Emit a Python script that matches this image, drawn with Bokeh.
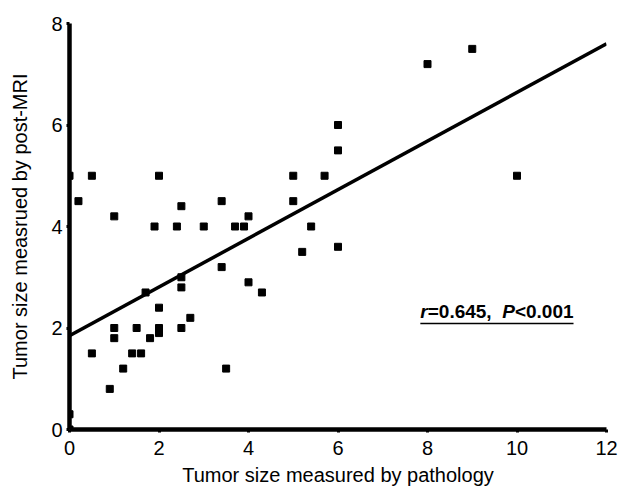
from bokeh.plotting import figure
from bokeh.models import Range1d, FixedTicker, ColumnDataSource
from bokeh.core.properties import value
from bokeh.embed import file_html
from bokeh.resources import INLINE

# ---- data ----
x_pathology = [0, 0, 0, 0.2, 0.5, 0.5, 0.9, 1.0, 1.0, 1.0, 1.2, 1.4, 1.5, 1.6, 1.7, 1.8,
               1.9, 2.0, 2.0, 2.0, 2.0, 2.4, 2.5, 2.5, 2.5, 2.5, 2.7, 3.0, 3.4, 3.4, 3.5,
               3.7, 3.9, 4.0, 4.0, 4.3, 5.0, 5.0, 5.2, 5.4, 5.7, 6.0, 6.0, 6.0, 8.0, 9.0, 10.0]
y_mri = [5.0, 0.3, 0.0, 4.5, 5.0, 1.5, 0.8, 4.2, 2.0, 1.8, 1.2, 1.5, 2.0, 1.5, 2.7, 1.8,
         4.0, 5.0, 2.4, 2.0, 1.9, 4.0, 4.4, 3.0, 2.8, 2.0, 2.2, 4.0, 4.5, 3.2, 1.2,
         4.0, 4.0, 4.2, 2.9, 2.7, 5.0, 4.5, 3.5, 4.0, 5.0, 6.0, 5.5, 3.6, 7.2, 7.5, 5.0]
fit_x = [0, 12]
fit_y = [1.85, 7.6]
x_ticks = [0, 2, 4, 6, 8, 10, 12]
y_ticks = [0, 2, 4, 6, 8]
x_title = "Tumor size measured by pathology"
y_title = "Tumor size measrued by post-MRI"
annot_parts = ["r", "=0.645,  ", "P", "<0.001"]
annot_italic = [True, False, True, False]

FONT = "Liberation Sans"
W, H = 621, 492
BL, BR, BT, BB = 69, 15, 23, 63

p = figure(width=W, height=H, output_backend="svg", toolbar_location=None,
           x_range=Range1d(0, 12), y_range=Range1d(0, 8),
           min_border_left=BL, min_border_right=BR, min_border_top=BT, min_border_bottom=BB)
p.outline_line_color = None
p.xgrid.visible = False
p.ygrid.visible = False
p.background_fill_color = "white"
p.border_fill_color = "white"

for ax, ticks in ((p.xaxis[0], x_ticks), (p.yaxis[0], y_ticks)):
    ax.ticker = FixedTicker(ticks=ticks)
    ax.axis_line_width = 4.5
    ax.axis_line_color = "black"
    ax.major_tick_out = 3
    ax.major_tick_in = 0
    ax.major_tick_line_width = 3
    ax.minor_tick_line_color = None
    ax.major_label_text_font = FONT
    ax.major_label_text_font_size = "20px"
    ax.major_label_text_color = "black"
    ax.axis_label_text_font = FONT
    ax.axis_label_text_font_size = "20px"
    ax.axis_label_text_font_style = "normal"
    ax.axis_label_text_color = "black"

p.xaxis.axis_label = x_title
p.yaxis.axis_label = y_title
p.xaxis.major_label_standoff = 8
p.xaxis.axis_label_standoff = 6
p.yaxis.major_label_standoff = 4
p.yaxis.axis_label_standoff = 17

# regression line
p.line(fit_x, fit_y, line_color="black", line_width=3.5)

# points
p.scatter(x_pathology, y_mri, marker="square", size=7, fill_color="black", line_color="black")

# annotation r=0.645, P<0.001 (bold, r and P italic, underlined)
ann_x, ann_y = 7.84, 2.33
char_w = {"r": 0.389, "=": 0.584, "0": 0.556, ".": 0.278, "6": 0.556, "4": 0.556,
          "5": 0.556, ",": 0.278, " ": 0.278, "P": 0.667, "<": 0.584, "1": 0.556}
fs = 19
offsets = []
acc = 0.0
for part in annot_parts:
    offsets.append(acc)
    acc += sum(char_w[c] for c in part) * fs
total_w = acc
src = ColumnDataSource(dict(x=[ann_x] * len(annot_parts), y=[ann_y] * len(annot_parts),
                            text=annot_parts, xo=offsets,
                            style=["bold italic" if it else "bold" for it in annot_italic]))
p.text(x="x", y="y", text="text", x_offset="xo", source=src,
       text_font=value(FONT), text_font_size=f"{fs}px", text_font_style="style",
       text_baseline="middle", text_align="left", text_color="black")
px_per_unit = (W - BL - BR) / 12.0
p.segment(x0=[ann_x], y0=[ann_y - 0.24], x1=[ann_x + total_w / px_per_unit], y1=[ann_y - 0.24],
          line_color="black", line_width=1.5)

open("out.html", "w").write(file_html(p, INLINE))
